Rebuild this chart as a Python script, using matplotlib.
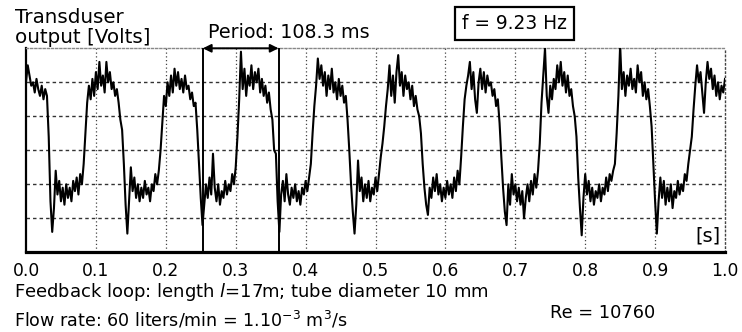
import numpy as np
import matplotlib
matplotlib.use("Agg")
import matplotlib.pyplot as plt

plt.rcParams['font.family'] = ['DejaVu Sans']
plt.rcParams['mathtext.fontset'] = 'dejavusans'

# ---------------- data ----------------
SAMPLE_DT = 0.0025  # s, sampling interval of the recorded trace
volts = [
    5.0, 5.5, 5.2, 4.9, 5.0, 4.7, 5.1, 4.8, 4.6, 4.9,   # 0-9
    4.5, 4.8, 4.6, 3.4, 1.5, 0.6, 1.3, 2.4, 1.7, 2.1,   # 10-19
    1.5, 1.9, 1.4, 2.0, 1.6, 1.9, 1.5, 2.1, 1.8, 2.2,   # 20-29
    1.7, 2.3, 2.0, 2.6, 3.5, 4.4, 4.9, 4.5, 5.1, 4.6,   # 30-39
    5.3, 4.8, 5.6, 4.9, 5.2, 4.7, 5.6, 5.0, 5.3, 4.8,   # 40-49
    5.0, 4.6, 4.8, 4.4, 3.9, 3.6, 2.6, 1.4, 0.55, 1.5,  # 50-59
    2.5, 1.8, 2.2, 1.6, 2.0, 1.5, 1.9, 1.6, 2.1, 1.7,   # 60-69
    1.9, 1.5, 2.0, 1.8, 2.3, 2.0, 2.4, 3.0, 3.8, 4.6,   # 70-79
    4.3, 5.0, 4.6, 5.2, 4.7, 5.4, 4.9, 5.3, 4.8, 5.1,   # 80-89
    4.7, 5.2, 4.8, 4.9, 4.5, 4.7, 4.3, 4.4, 3.6, 2.6,   # 90-99
    1.6, 0.8, 1.4, 2.0, 1.6, 2.2, 1.7, 2.9, 1.9, 1.5,   # 100-109
    2.0, 1.4, 1.8, 1.6, 2.1, 1.7, 2.0, 1.8, 2.3, 2.0,   # 110-119
    2.5, 3.4, 4.5, 5.9, 4.8, 5.4, 4.6, 5.2, 4.9, 5.5,   # 120-129
    4.8, 5.3, 5.0, 5.4, 4.7, 5.1, 4.6, 4.9, 4.4, 4.7,   # 130-139
    4.2, 3.9, 3.0, 2.9, 1.5, 0.6, 1.7, 2.1, 1.5, 2.3,   # 140-149
    1.7, 1.4, 1.9, 1.6, 2.0, 1.5, 1.8, 1.4, 1.9, 1.7,   # 150-159
    2.1, 1.8, 2.2, 2.6, 3.5, 4.3, 4.9, 5.7, 5.1, 5.5,   # 160-169
    4.9, 5.3, 4.6, 5.2, 4.8, 5.4, 4.7, 5.0, 4.5, 5.1,   # 170-179
    4.6, 4.9, 4.4, 4.6, 3.9, 3.0, 2.0, 1.2, 0.55, 1.4,  # 180-189
    2.7, 1.8, 2.2, 1.5, 2.0, 1.6, 2.1, 1.5, 1.9, 1.7,   # 190-199
    2.2, 1.8, 2.3, 2.8, 3.2, 3.7, 4.3, 4.8, 5.5, 4.6,   # 200-209
    5.2, 4.4, 5.3, 5.8, 4.9, 5.3, 4.6, 5.2, 4.8, 5.0,   # 210-219
    4.5, 4.9, 4.3, 4.6, 4.2, 4.0, 3.5, 2.6, 1.9, 1.4,   # 220-229
    1.1, 1.9, 1.6, 2.2, 1.8, 2.3, 1.7, 2.0, 1.5, 1.9,   # 230-239
    1.6, 2.1, 1.7, 2.0, 1.6, 2.2, 1.8, 2.4, 2.0, 2.8,   # 240-249
    3.7, 4.5, 4.9, 5.2, 5.6, 4.8, 5.3, 4.5, 4.1, 5.0,   # 250-259
    5.4, 4.8, 5.3, 4.7, 5.2, 4.9, 5.0, 4.6, 4.8, 4.3,   # 260-269
    4.5, 3.8, 2.8, 1.9, 1.2, 0.8, 2.0, 1.4, 2.3, 1.7,   # 270-279
    2.0, 1.5, 1.9, 1.4, 1.8, 1.0, 1.6, 2.0, 1.5, 2.1,   # 280-289
    1.7, 2.3, 1.9, 2.4, 3.2, 4.4, 5.2, 6.0, 4.6, 4.1,   # 290-299
    4.9, 4.5, 5.1, 4.8, 5.5, 5.0, 5.6, 4.9, 5.3, 4.7,   # 300-309
    5.2, 4.6, 4.8, 4.3, 4.0, 3.4, 2.2, 1.3, 0.5, 1.6,   # 310-319
    2.3, 1.7, 2.1, 1.5, 1.9, 1.4, 1.8, 1.6, 2.0, 1.5,   # 320-329
    1.9, 1.7, 2.2, 1.8, 2.3, 2.1, 2.4, 2.6, 3.5, 4.6,   # 330-339
    6.1, 4.8, 5.3, 4.6, 5.2, 4.9, 5.4, 4.8, 5.1, 4.7,   # 340-349
    5.5, 5.0, 5.3, 4.6, 5.0, 4.5, 4.8, 4.3, 3.7, 2.6,   # 350-359
    1.5, 0.55, 1.5, 2.2, 1.6, 2.1, 1.4, 1.9, 1.5, 2.0,  # 360-369
    1.3, 1.8, 1.6, 2.1, 1.7, 2.0, 1.8, 2.3, 2.1, 2.6,   # 370-379
    3.0, 3.4, 4.2, 4.9, 5.5, 5.0, 5.3, 4.7, 4.1, 5.0,   # 380-389
    5.6, 5.1, 5.4, 4.8, 5.2, 4.6, 5.0, 4.5, 4.9, 4.7,   # 390-399
    5.1,                                                # 400
]
time_s = np.arange(len(volts)) * SAMPLE_DT

x_ticks = [0.0, 0.1, 0.2, 0.3, 0.4, 0.5, 0.6, 0.7, 0.8, 0.9, 1.0]
x_tick_labels = ["0.0", "0.1", "0.2", "0.3", "0.4", "0.5", "0.6", "0.7", "0.8", "0.9", "1.0"]
y_grid = [1, 2, 3, 4, 5]
x_grid = [0.1, 0.2, 0.3, 0.4, 0.5, 0.6, 0.7, 0.8, 0.9]
period_marks = [0.253, 0.3613]

# ---------------- figure ----------------
W, H = 742, 332
fig = plt.figure(figsize=(W / 100, H / 100), dpi=100)
ax = fig.add_axes([26 / W, (H - 252.3) / H, 699 / W, 204 / H])
ax.set_xlim(0, 1.0)
ax.set_ylim(0, 6)

# grid
for yv in y_grid:
    ax.axhline(yv, color='#333333', lw=1.0, ls=(0, (2.5, 2.2)), zorder=1)
for xv in x_grid:
    ax.axvline(xv, color='#444444', lw=0.9, ls=(0, (1, 2)), zorder=1)

# signal
ax.plot(time_s, volts, color='black', lw=1.5, zorder=3)

# period markers
ax.vlines(period_marks, 0, 6, colors='black', lw=1.4, zorder=4)
ax.annotate('', xy=(period_marks[0], 6.0), xytext=(period_marks[1], 6.0),
            arrowprops=dict(arrowstyle='<|-|>', color='black', lw=1.4,
                            mutation_scale=12, shrinkA=0, shrinkB=0),
            annotation_clip=False, zorder=5)

# spines
ax.spines['left'].set_linewidth(1.6)
ax.spines['bottom'].set_linewidth(2.3)
ax.spines['top'].set_linestyle((0, (1.5, 1.5)))
ax.spines['top'].set_color('#888888')
ax.spines['top'].set_linewidth(1.0)
ax.spines['right'].set_linestyle((0, (1, 2)))
ax.spines['right'].set_color('#444444')
ax.spines['right'].set_linewidth(1.0)

ax.set_xticks(x_ticks)
ax.set_xticklabels(x_tick_labels)
ax.set_yticks([])
ax.tick_params(axis='x', length=0, pad=7, labelsize=12.3)

ax.text(0.993, 0.33, "[s]", ha='right', va='baseline', fontsize=14)

# figure texts (pixel positions)
def ftext(x, y, s, **kw):
    fig.text(x / W, 1 - y / H, s, va='baseline', **kw)

ftext(15, 22.7, "Transduser", fontsize=14.3)
ftext(15, 43, "output [Volts]", fontsize=14.3)
ftext(208, 38.3, "Period: 108.3 ms", fontsize=13.8)
ftext(462, 29, "f = 9.23 Hz", fontsize=13.4,
      bbox=dict(boxstyle='square,pad=0.4', fc='white', ec='black', lw=1.6))
ftext(14, 296.7, r"Feedback loop: length $l$=17m; tube diameter 10 mm", fontsize=13.0)
ftext(14, 326.7, r"Flow rate: 60 liters/min = 1.10$^{-3}$ m$^3$/s", fontsize=12.6)
ftext(550, 318, "Re = 10760", fontsize=12.8)

fig.savefig("out.png", dpi=100)
